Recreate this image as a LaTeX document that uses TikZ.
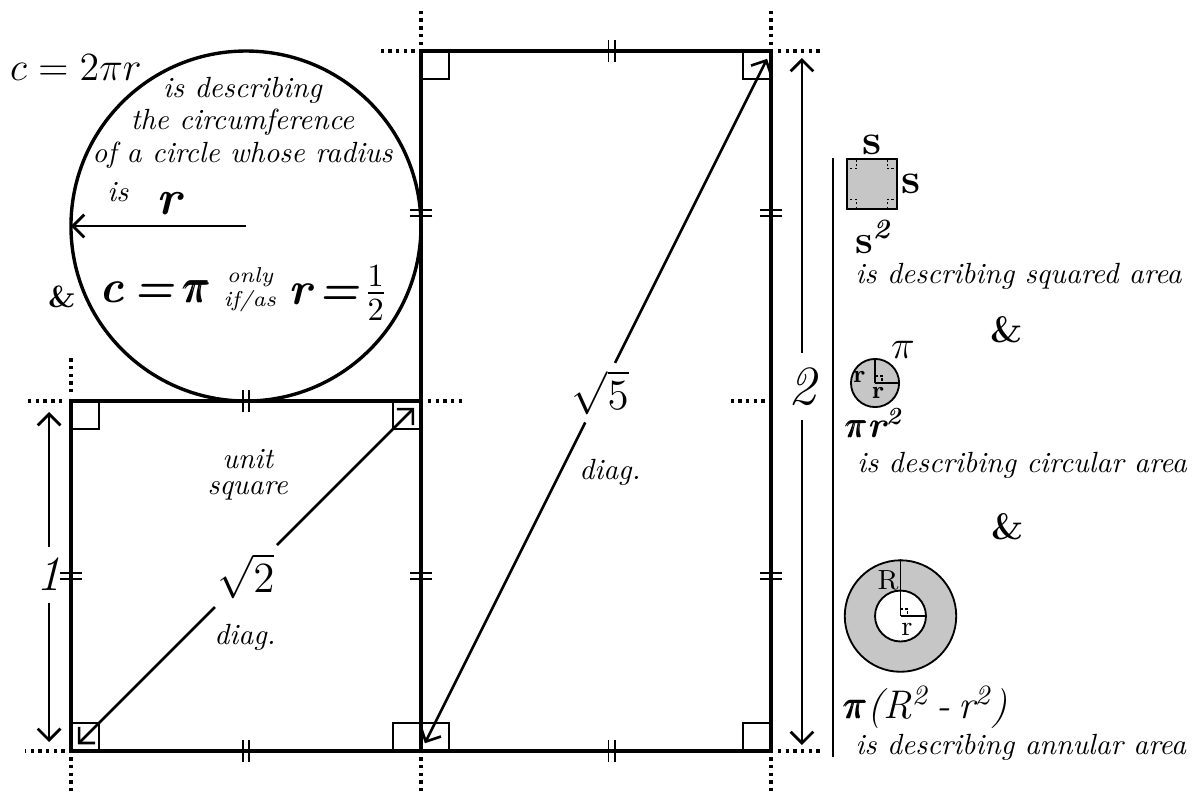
\RequirePackage{fix-cm}
\documentclass[tikz,border=0pt]{standalone}
\usepackage{amsmath, amssymb}
\usetikzlibrary{arrows.meta, positioning}

\begin{document}
\begin{tikzpicture}[
    >={Straight Barb[length=1.3mm, width=2.6mm]},
    edge/.style={line width=1.2pt},
    rightbox/.style={line width=0.9pt},
    guide/.style={line width=1.1pt, dash pattern=on 1.1pt off 1.4pt},
    diagline/.style={line width=0.85pt},
    dimline/.style={line width=0.9pt},
    hashmark/.pic={\draw[line width=0.55pt] (-0.037,-0.13) -- (-0.037,0.13) (0.037,-0.13) -- (0.037,0.13);},
    note/.style={font=\itshape\fontsize{9.5}{10.6}\selectfont},
    bignum/.style={font=\itshape\fontsize{16}{18}\selectfont},
    tinymark/.style={line width=0.45pt, dash pattern=on 0.8pt off 0.7pt},
    disc/.style={circle, draw, line width=0.6pt, fill=gray!45, inner sep=0pt}
  ]
  \useasboundingbox (-0.811,-0.491) rectangle (12.857,8.583);
  % Corners of the unit square and of the 1x2 rectangle
  \coordinate (sqBL) at (0,0);
  \coordinate (sqTL) at (0,4);
  \coordinate (sqBR) at (4,0);
  \coordinate (sqTR) at (4,4);
  \coordinate (reTL) at (4,8);
  \coordinate (reBR) at (8,0);
  \coordinate (reTR) at (8,8);
  \coordinate (reMR) at (8,4);
  \coordinate (cc) at (2,6);
  \coordinate (cl) at (0,6);
  % Square, rectangle and circle
  \draw[edge] (sqBL) rectangle (sqTR);
  \draw[edge] (sqBR) rectangle (reTR);
  \draw[line width=1.1pt] (cc) circle (2);
  % Right angle boxes
  \foreach \c/\sx/\sy in {sqBL/1/1, sqTL/1/-1, sqTR/-1/-1, sqBR/-1/1, sqBR/1/1, reTL/1/-1, reTR/-1/-1, reBR/-1/1}
    \draw[rightbox] (\c) rectangle ++({0.32*\sx},{0.32*\sy});
  % Dotted guides at the corners
  \draw[guide] (reTL) ++(-0.07,0) -- ++(-0.42,0);
  \draw[guide] (reTL) ++(0,0.07) -- ++(0,0.42);
  \draw[guide] (reTR) ++(0,0.07) -- ++(0,0.42);
  \draw[guide] (reTR) ++(0.08,0) -- ++(0.5,0);
  \draw[guide] (sqTL) ++(-0.1,0) -- ++(-0.42,0);
  \draw[guide] (sqTL) ++(0,0.1) -- ++(0,0.42);
  \draw[guide] (sqTR) ++(0.08,0) -- ++(0.42,0);
  \draw[guide] (reMR) ++(-0.07,0) -- ++(-0.42,0);
  \draw[guide] (sqBL) ++(-0.07,0) -- ++(-0.46,0);
  \draw[guide] (sqBL) ++(0,-0.07) -- ++(0,-0.4);
  \draw[guide] (sqBR) ++(0,-0.07) -- ++(0,-0.4);
  \draw[guide] (reBR) ++(0,-0.07) -- ++(0,-0.4);
  \draw[guide] (reBR) ++(0.08,0) -- ++(0.5,0);
  % Equal length marks
  \foreach \p in {(2,4), (2,0), (6.18,8), (6.18,0)}
    \pic at \p {hashmark};
  \foreach \p in {(0,2), (4,2), (8,2), (4,6.15), (8,6.15)}
    \pic[rotate=90] at \p {hashmark};
  % Diagonals
  \path (sqBL) -- (sqTR) node[pos=0.5, bignum, font=\fontsize{14}{16}\selectfont, inner sep=2.6pt] (rt2) {$\sqrt{2}$};
  \draw[diagline, <-, shorten <=1.1mm] (sqBL) -- (rt2);
  \draw[diagline, ->, shorten >=1.1mm] (rt2) -- (sqTR);
  \path (sqBR) -- (reTR) node[pos=0.512, bignum, font=\fontsize{14}{16}\selectfont, inner sep=2.2pt] (rt5) {$\sqrt{5}$};
  \draw[diagline, <-, shorten <=1mm] (sqBR) -- (rt5);
  \draw[diagline, ->, shorten >=1mm] (rt5) -- (reTR);
  \node[note] (d2) at (1.99,1.30) {diag.};
  \node[note] (d5) at (6.16,3.18) {diag.};
  \node[note, align=center, font=\itshape\fontsize{9.5}{8.6}\selectfont] (unit) at (2.02,3.16) {unit\\square};
  % Side lengths
  \node[bignum, inner sep=3.6pt] (one) at (-0.25,2.017) {1};
  \coordinate (oneT) at (-0.25,3.874);
  \coordinate (oneB) at (-0.25,0.103);
  \draw[dimline, ->] (one) -- (oneT);
  \draw[dimline, ->] (one) -- (oneB);
  \node[bignum, font=\itshape\fontsize{18}{20}\selectfont, inner sep=4.5pt] (two) at (8.354,4.165) {2};
  \coordinate (twoT) at (8.354,7.92);
  \coordinate (twoB) at (8.354,0.069);
  \draw[dimline, ->] (two) -- (twoT);
  \draw[dimline, ->] (two) -- (twoB);
  % Circle texts
  \draw[dimline, ->] (cc) -- (cl);
  \node[font=\fontsize{13}{15}\selectfont] (circum) at (0.057,7.806) {$c = 2\pi r$};
  \node[note, align=center] (circtext) at (1.96,7.18) {is describing\\the circumference\\of a circle whose radius};
  \node[note] (isword) at (0.537,6.389) {is};
  \node[font=\bfseries\itshape\fontsize{16}{18}\selectfont] (radlab) at (1.12,6.26) {r};
  \node[font=\bfseries\fontsize{10}{12}\selectfont] (amp1) at (-0.103,5.189) {\&};
  \node[font=\bfseries\itshape\fontsize{15}{18}\selectfont, inner sep=1pt] (cpi) at (0.96,5.246) {c\hspace{0.2em}=\hspace{0.2em}\pmb{$\pi$}};
  \node[align=center, font=\itshape\fontsize{7}{8}\selectfont, inner sep=0.5pt] (onlyif) at (2.046,5.27) {only\\if/as};
  \node[font=\bfseries\itshape\fontsize{15}{18}\selectfont, inner sep=1pt] (rhalf) at (3.051,5.234) {r\hspace{0.15em}=\hspace{0.1em}$\frac{1}{2}$};
  % Separator
  \coordinate (sepT) at (8.709,6.777);
  \coordinate (sepB) at (8.709,-0.069);
  \draw[line width=0.7pt] (sepT) -- (sepB);
  % Squared area
  \node[draw, fill=gray!45, line width=0.7pt, minimum size=0.571cm, inner sep=0pt] (sqs) at (9.154,6.48) {};
  \foreach \sx/\sy in {1/1, 1/-1, -1/1, -1/-1}
    \draw[tinymark, shift={(sqs.center)}, xscale=\sx, yscale=\sy] (0.175,0.2855) -- (0.175,0.175) -- (0.2855,0.175);
  \node[font=\bfseries\fontsize{14}{15}\selectfont, inner sep=1pt, above=0pt of sqs] (sTop) {s};
  \node[font=\bfseries\fontsize{14}{15}\selectfont, inner sep=1pt, right=0pt of sqs] (sRight) {s};
  \node[font=\bfseries\fontsize{13}{15}\selectfont] (s2) at (9.166,5.874) {s\textsuperscript{\itshape 2}};
  \node[note, anchor=west, inner sep=0pt] (sqarea) at (8.96,5.42) {is describing squared area};
  \node[font=\bfseries\fontsize{12}{13}\selectfont] (amp2) at (10.697,4.811) {\&};
  % Circular area
  \node[disc, minimum size=0.55cm] (disc) at (9.189,4.206) {};
  \draw[line width=0.5pt] (disc.center) -- (disc.north);
  \draw[line width=0.5pt] (disc.center) -- (disc.east);
  \draw[tinymark, shift={(disc.center)}] (0,0.08) -- (0.08,0.08) -- (0.08,0);
  \node[font=\bfseries\fontsize{8}{9}\selectfont, inner sep=0pt] (dr1) at (9.01,4.274) {r};
  \node[font=\bfseries\fontsize{8}{9}\selectfont, inner sep=0pt] (dr2) at (9.223,4.091) {r};
  \node[font=\fontsize{13}{15}\selectfont] (dpi) at (9.509,4.583) {$\pi$};
  \node[font=\bfseries\itshape\fontsize{12}{14}\selectfont] (pir2) at (9.177,3.749) {\pmb{$\pi$}r\textsuperscript{2}};
  \node[note, anchor=west, inner sep=0pt] (circarea) at (8.98,3.269) {is describing circular area};
  \node[font=\bfseries\fontsize{12}{13}\selectfont] (amp3) at (10.709,2.56) {\&};
  % Annular area
  \node[disc, minimum size=1.274cm] (ring) at (9.48,1.543) {};
  \node[circle, draw, line width=0.6pt, fill=white, minimum size=0.582cm, inner sep=0pt] (hole) at (ring.center) {};
  \draw[line width=0.5pt] (ring.center) -- (ring.north);
  \draw[line width=0.5pt] (hole.center) -- (hole.east);
  \draw[tinymark, shift={(ring.center)}] (0,0.08) -- (0.08,0.08) -- (0.08,0);
  \node[font=\fontsize{9}{10}\selectfont, inner sep=0pt] (ringR) at (9.337,1.954) {R};
  \node[font=\fontsize{9}{10}\selectfont, inner sep=0pt] (ringr) at (9.554,1.394) {r};
  \node[font=\itshape\fontsize{13}{15}\selectfont] (annf) at (9.766,0.503) {\pmb{$\pi$}(R\textsuperscript{2}\hspace{0.2em}-\hspace{0.2em}r\textsuperscript{2})};
  \node[note, anchor=west, inner sep=0pt] (annarea) at (8.96,0.046) {is describing annular area};
\end{tikzpicture}
\end{document}
